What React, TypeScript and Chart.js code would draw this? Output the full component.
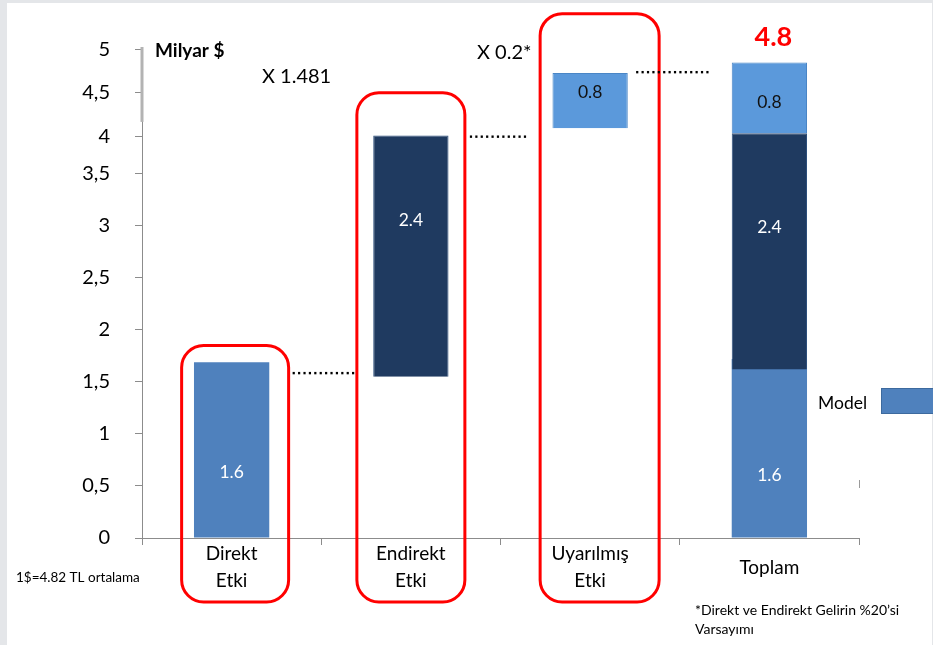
import React, { useEffect, useRef } from "react";
import { Chart, registerables } from "chart.js";

Chart.register(...registerables);

// ---------- data ----------
const categories: (string | string[])[] = [
  ["Direkt", "Etki"],
  ["Endirekt", "Etki"],
  ["Uyarılmış", "Etki"],
  "Toplam",
];
// floating bar ranges [from, to] (Milyar $)
const directRange = [[0, 1.69], null, null, [0, 1.72]];
const indirectRange = [null, [1.55, 3.87], null, [1.62, 3.89]];
const inducedRange = [null, null, [3.94, 4.47], [3.89, 4.57]];
// value labels written on the bars
const directText = ["1.6", null, null, "1.6"];
const indirectText = [null, "2.4", null, "2.4"];
const inducedText = [null, null, "0.8", "0.8"];
// y axis ticks (labels as printed)
const yTickValues = [0, 0.5, 1, 1.5, 2, 2.5, 3, 3.5, 3.86, 4.28, 4.7];
const yTickLabels = ["0", "0,5", "1", "1,5", "2", "2,5", "3", "3,5", "4", "4,5", "5"];
// annotations
const unitText = "Milyar $";
const multiplierTexts = ["X 1.481", "X 0.2*"];
const totalText = "4.8";
const rateNote = "1$=4.82 TL ortalama";
const footNote = ["*Direkt ve Endirekt Gelirin %20’si", "Varsayımı"];
const legendText = "Model";
// levels of the dotted connectors and tops of the red frames (axis units)
const connectorLevels = [1.587, 3.86, 4.48];
const frameTops = [1.85, 4.28, 5.04];

const FONT = "Lato, 'Open Sans', sans-serif";
const C_DIRECT = "#4f81bd";
const C_INDIRECT = "#1f3a60";
const C_INDUCED = "#5b99db";

const overlay = {
  id: "overlay",
  afterDatasetsDraw(chart: any) {
    const ctx = chart.ctx;
    ctx.save();
    const labelSets = [
      { d: 1, texts: directText, color: "#ffffff", frac: [0.37, 0, 0, 0.35] },
      { d: 0, texts: indirectText, color: "#ffffff", frac: [0, 0.65, 0, 0.6] },
      { d: 2, texts: inducedText, color: "#111111", frac: [0, 0, 0.64, 0.44] },
    ];
    ctx.font = `17.5px ${FONT}`;
    ctx.textAlign = "center";
    ctx.textBaseline = "middle";
    for (const s of labelSets) {
      const meta = chart.getDatasetMeta(s.d);
      s.texts.forEach((t, i) => {
        if (!t) return;
        const el: any = meta.data[i];
        const py = el.base - (el.base - el.y) * s.frac[i];
        ctx.fillStyle = s.color;
        ctx.fillText(t, el.x, py);
      });
    }
    ctx.restore();
  },
  afterDraw(chart: any) {
    const ctx = chart.ctx;
    const x = chart.scales.x;
    const y = chart.scales.y;
    const bottom = chart.chartArea.bottom;
    ctx.save();

    // thick grey top segment of the y axis
    ctx.strokeStyle = "#b3b3b3";
    ctx.lineWidth = 3;
    ctx.beginPath();
    ctx.moveTo(chart.chartArea.left, y.getPixelForValue(4));
    ctx.lineTo(chart.chartArea.left, y.getPixelForValue(4.72));
    ctx.stroke();

    // red rounded frames
    const frameHalf = [[50, 57], [54, 54], [50, 69]];
    ctx.strokeStyle = "#ff0000";
    ctx.lineWidth = 3;
    frameTops.forEach((v, i) => {
      const cx = x.getPixelForValue(i);
      const l = cx - frameHalf[i][0];
      const r = cx + frameHalf[i][1];
      const t = y.getPixelForValue(v);
      const b = bottom + 64;
      ctx.beginPath();
      ctx.roundRect(l, t, r - l, b - t, 22);
      ctx.stroke();
    });

    // dotted connectors
    const conn = [[61, -58], [59, -62], [46, -58]];
    ctx.fillStyle = "#000";
    connectorLevels.forEach((v, i) => {
      const x0 = x.getPixelForValue(i) + conn[i][0];
      const x1 = x.getPixelForValue(i + 1) + conn[i][1];
      const py = y.getPixelForValue(v);
      for (let px = x0; px <= x1; px += 5.4) {
        ctx.fillRect(px, py - 1, 2.2, 2.4);
      }
    });

    // texts
    ctx.fillStyle = "#000";
    ctx.textBaseline = "middle";
    ctx.textAlign = "left";
    ctx.font = `bold 19px ${FONT}`;
    ctx.fillText(unitText, 155, 51);
    ctx.font = `20px ${FONT}`;
    ctx.fillText(multiplierTexts[0], 262, 77);
    ctx.fillText(multiplierTexts[1], 477, 53);
    ctx.font = `bold 27px ${FONT}`;
    ctx.fillStyle = "#ff0000";
    ctx.textAlign = "center";
    ctx.fillText(totalText, x.getPixelForValue(3) + 4, 37);
    ctx.fillStyle = "#000";
    ctx.textAlign = "left";
    ctx.font = `13.5px ${FONT}`;
    ctx.fillText(rateNote, 16, 578);
    ctx.font = `14px ${FONT}`;
    ctx.fillText(footNote[0], 695, 610);
    ctx.fillText(footNote[1], 695, 629);
    ctx.font = `17.5px ${FONT}`;
    ctx.fillText(legendText, 818, 403);
    ctx.fillStyle = C_DIRECT;
    ctx.fillRect(881, 388, 60, 26);
    ctx.strokeStyle = "#3d6a9e";
    ctx.lineWidth = 1;
    ctx.strokeRect(881.5, 388.5, 60, 25);

    // small stray grey mark
    ctx.strokeStyle = "#9a9a9a";
    ctx.beginPath();
    ctx.moveTo(859.5, 480);
    ctx.lineTo(859.5, 488);
    ctx.stroke();
    ctx.restore();
  },
};

export default function App() {
  const ref = useRef<HTMLCanvasElement | null>(null);
  useEffect(() => {
    if (!ref.current) return;
    const chart = new Chart(ref.current, {
      type: "bar",
      data: {
        labels: categories as any,
        datasets: [
          {
            label: "Endirekt",
            data: indirectRange as any,
            backgroundColor: C_INDIRECT,
            borderColor: "#2d4f7c",
            borderWidth: 1,
            order: 0,
          },
          {
            label: "Direkt",
            data: directRange as any,
            backgroundColor: C_DIRECT,
            borderWidth: 0,
            order: 1,
          },
          {
            label: "Uyarılmış",
            data: inducedRange as any,
            backgroundColor: C_INDUCED,
            borderColor: "#4a86c6",
            borderWidth: 1,
            order: 1,
          },
        ],
      },
      options: {
        animation: false,
        responsive: false,
        devicePixelRatio: 1,
        layout: { padding: { left: 0, right: 74, top: 47, bottom: 0 } },
        plugins: { legend: { display: false }, tooltip: { enabled: false } },
        datasets: { bar: { barPercentage: 1, categoryPercentage: 0.42 } },
        scales: {
          x: {
            stacked: true,
            offset: true,
            afterFit: (s: any) => {
              s.height = 107;
            },
            grid: {
              offset: true,
              drawOnChartArea: false,
              tickLength: 7,
              color: "#8c8c8c",
            },
            border: { color: "#8c8c8c", width: 1 },
            ticks: {
              font: { family: FONT, size: 19, lineHeight: 1.42 },
              color: "#000",
              padding: 9,
              crossAlign: "center",
              maxRotation: 0,
              autoSkip: false,
            },
          },
          y: {
            min: 0,
            max: 4.72,
            afterFit: (s: any) => {
              s.width = 142;
            },
            afterBuildTicks: (s: any) => {
              s.ticks = yTickValues.map((v) => ({ value: v }));
            },
            grid: { drawOnChartArea: false, tickLength: 7, color: "#8c8c8c" },
            border: { color: "#8c8c8c", width: 1 },
            ticks: {
              autoSkip: false,
              font: { family: FONT, size: 20 },
              color: "#000",
              padding: 25,
              callback: (_v: any, i: number) => yTickLabels[i],
            },
          },
        },
      },
      plugins: [overlay],
    });
    return () => chart.destroy();
  }, []);
  return (
    <div
      style={{
        position: "fixed",
        left: 0,
        top: 0,
        width: 933,
        height: 645,
        background: "#e4e6e9",
        overflow: "hidden",
      }}
    >
      <div
        style={{
          position: "absolute",
          left: 7,
          top: 3,
          width: 925,
          height: 642,
          background: "#ffffff",
        }}
      />
      <canvas
        ref={ref}
        width={933}
        height={645}
        style={{ position: "absolute", left: 0, top: 0, width: 933, height: 645 }}
      />
    </div>
  );
}
